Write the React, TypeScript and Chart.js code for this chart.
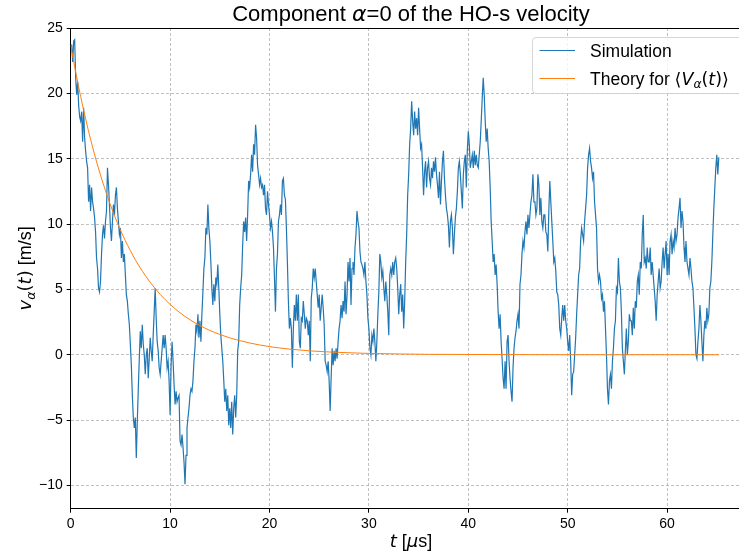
import React, { useEffect, useRef } from "react";
import { Chart, registerables } from "chart.js";

Chart.register(...registerables);

// ---- data ----
const SIM_T0 = 0; // μs
const SIM_DT = 0.1; // μs, sampling step of the traced simulation
const SIM_V = [
  23.7, 23.7, 22.4, 24.0, 24.1, 21.2, 19.9, 20.9, 19.1, 18.2, 17.9,
  18.6, 16.3, 18.9, 16.6, 15.6, 14.8, 14.3, 11.7, 13.0, 11.0,
  12.8, 11.7, 11.2, 10.5, 9.4, 7.4, 6.6, 5.1, 4.8, 5.6,
  7.7, 9.2, 9.9, 8.9, 10.2, 11.0, 14.3, 13.0, 11.5, 9.7,
  8.7, 10.2, 11.5, 10.7, 12.2, 12.8, 11.2, 10.2, 9.2, 9.7,
  7.4, 8.7, 7.1, 7.7, 6.1, 4.6, 4.1, 3.1, 2.3, 0.8,
  -0.8, -3.1, -4.8, -5.6, -4.8, -7.9, -5.1, -2.6, -0.3, 1.8,
  0.5, 2.3, 0.8, 0.0, -1.5, 0.0, 0.5, -1.8, -0.3, 1.3,
  0.3, -0.5, 1.5, 3.3, 5.1, 2.8, 1.0, 0.3, -1.0, -1.5,
  -0.5, 0.5, 1.5, 0.5, 1.5, 0.5, -1.0, -0.5, -2.0, -4.6,
  -0.8, 1.0, -0.5, -2.3, -3.8, -2.8, -3.6, -3.3, -3.1, -6.6,
  -6.9, -6.1, -7.1, -8.2, -9.9, -7.7, -5.6, -4.8, -4.1, -3.1,
  -2.6, -2.8, -2.0, -0.5, 0.5, 2.3, 1.8, 3.1, 1.3, 2.6,
  1.0, 3.1, 4.8, 6.6, 7.4, 9.7, 9.2, 11.5, 9.7, 8.7,
  7.1, 5.1, 3.8, 5.4, 4.1, 5.9, 5.4, 6.9, 5.1, 3.1,
  1.5, 0.5, -0.5, -2.0, -3.6, -2.6, -4.3, -3.1, -5.4, -4.1,
  -5.6, -3.6, -6.1, -4.1, -3.1, -4.8, -3.1, 0.3, 1.0, 3.8,
  5.1, 6.1, 8.4, 10.2, 9.4, 10.5, 8.7, 10.7, 13.3, 12.8,
  13.8, 15.3, 14.0, 16.1, 15.3, 17.6, 16.6, 14.5, 13.8, 13.0,
  13.5, 12.8, 13.0, 12.2, 13.0, 11.2, 10.7, 12.5, 11.5, 10.7,
  9.7, 10.2, 9.4, 8.2, 5.9, 3.3, 6.6, 7.7, 10.2, 10.7,
  11.5, 10.7, 13.3, 13.5, 12.2, 11.9, 9.7, 7.1, 4.1, 2.0,
  2.8, 2.0, -1.0, 2.0, 3.8, 2.6, 4.6, 2.6, 4.6, 1.0,
  0.5, 2.8, 2.6, 4.1, 3.1, 2.0, 2.8, 2.6, 1.5, 2.6,
  -0.5, 4.3, 5.1, 6.6, 5.9, 6.6, 5.6, 4.6, 3.6, 4.6,
  2.6, 3.6, 4.6, 3.6, 2.3, -0.5, -0.8, -1.3, -0.5, -2.0,
  -4.3, -1.8, 0.5, -0.8, 0.3, -0.5, 0.5, -0.3, 1.0, 2.0,
  2.6, 3.8, 2.8, 4.1, 3.3, 5.6, 3.1, 4.6, 7.1, 5.6,
  7.4, 3.8, 6.6, 7.1, 6.1, 8.2, 9.2, 11.0, 10.2, 9.7,
  7.9, 7.1, 6.9, 6.6, 6.1, 7.1, 5.6, 4.6, 2.8, 2.0,
  0.5, 0.0, 1.5, 1.0, 2.0, 1.0, -0.5, 1.0, 3.1, 4.8,
  7.7, 7.1, 5.9, 6.4, 5.1, 4.1, 5.6, 4.6, 3.3, 1.5,
  6.1, 6.6, 6.1, 7.1, 6.1, 7.1, 7.4, 6.6, 5.1, 3.1,
  4.6, 5.4, 3.3, 4.6, 2.0, 4.1, 7.1, 9.2, 12.2, 13.8,
  16.1, 17.3, 19.4, 17.9, 16.8, 18.6, 17.3, 18.1, 16.8, 18.9,
  17.3, 15.8, 16.1, 14.3, 12.2, 14.0, 14.8, 12.8, 14.3, 14.8,
  13.5, 13.0, 14.3, 13.5, 14.8, 14.0, 15.1, 13.8, 13.0, 12.0,
  14.0, 11.5, 13.3, 14.8, 15.6, 13.5, 12.2, 11.2, 10.7, 9.9,
  8.2, 10.2, 10.7, 9.7, 7.7, 9.2, 10.5, 11.2, 12.5, 14.3,
  14.8, 13.8, 12.5, 11.2, 13.8, 14.8, 15.3, 12.8, 15.6, 17.1,
  16.1, 14.3, 14.8, 15.3, 14.3, 15.6, 14.5, 15.3, 14.5, 14.3,
  15.3, 16.3, 17.9, 19.6, 21.2, 19.9, 17.9, 16.3, 17.3, 15.8,
  14.8, 12.8, 10.2, 8.7, 7.1, 7.7, 6.1, 6.9, 5.4, 3.3,
  2.0, 3.1, 1.0, -0.3, -1.8, -2.6, -0.5, -2.6, 1.0, 1.5,
  -0.5, -1.8, -2.8, -3.6, -1.0, 0.5, 1.3, 1.8, 2.6, 3.1,
  2.0, 5.4, 6.1, 7.7, 8.7, 8.2, 9.4, 10.2, 9.2, 10.7,
  9.7, 10.7, 11.7, 12.2, 13.8, 11.7, 11.7, 10.7, 11.2, 13.8,
  13.0, 10.7, 12.0, 10.2, 9.7, 10.7, 10.7, 9.4, 9.2, 7.9,
  11.0, 13.3, 11.7, 10.2, 8.7, 7.1, 7.4, 6.4, 4.8, 4.6,
  3.8, 2.0, 1.5, 2.8, 3.8, 2.6, 3.8, 2.6, 2.0, 1.0,
  0.3, 1.5, -0.5, -3.1, -1.5, -1.3, 0.0, 1.3, 3.1, 4.6,
  6.1, 6.6, 8.7, 9.7, 9.2, 8.7, 10.2, 11.2, 12.2, 14.3,
  15.3, 15.8, 14.8, 14.3, 13.5, 14.0, 11.7, 10.7, 9.7, 6.6,
  5.6, 6.1, 5.6, 4.3, 4.6, 3.3, 4.1, 2.0, 0.0, -2.6,
  -3.8, -2.0, -1.5, -2.6, -0.5, 0.5, 2.0, 2.6, 5.1, 4.8,
  7.4, 5.6, 5.1, 3.3, 0.5, -0.5, -1.5, 0.3, 2.0, 0.0,
  1.0, 3.1, 2.6, 2.6, 1.5, 3.6, 2.0, 4.1, 3.6, 5.6,
  6.1, 4.6, 7.1, 6.6, 9.2, 10.7, 7.1, 7.4, 6.6, 8.2,
  7.1, 7.1, 8.2, 6.1, 7.1, 6.1, 5.1, 4.1, 2.6, 4.6,
  5.6, 6.6, 5.1, 5.6, 7.1, 8.2, 6.6, 7.7, 8.7, 6.1,
  7.7, 6.1, 8.7, 9.2, 7.7, 8.7, 8.2, 9.7, 8.7, 9.2,
  10.5, 11.2, 12.0, 9.7, 11.0, 10.2, 8.2, 7.1, 8.7, 7.1,
  6.6, 6.1, 7.4, 6.6, 5.6, 5.1, 3.6, 2.0, 0.0, -0.3,
  1.0, 2.0, 3.8, 2.6, 1.0, -0.5, 1.5, 2.6, 2.0, 3.6,
  2.6, 3.1, 5.1, 5.6, 7.1, 9.2, 11.2, 12.8, 14.3, 15.3,
  13.8, 15.1,
];

const THEORY_T = [
  0, 0.5, 1, 1.5, 2, 2.5, 3, 3.5, 4, 4.5, 5, 5.5, 6, 6.5, 7, 7.5, 8, 8.5, 9, 9.5,
  10, 10.5, 11, 11.5, 12, 12.5, 13, 13.5, 14, 14.5, 15, 16, 17, 18, 19, 20, 21, 22,
  24, 26, 28, 30, 33, 36, 40, 45, 50, 55, 60, 65.2,
];
const THEORY_V = [
  23.7, 21.64, 19.76, 18.05, 16.48, 15.05, 13.74, 12.55, 11.46, 10.46, 9.55, 8.72,
  7.97, 7.27, 6.64, 6.07, 5.54, 5.06, 4.62, 4.22, 3.85, 3.52, 3.21, 2.93, 2.68, 2.44,
  2.23, 2.04, 1.86, 1.7, 1.55, 1.29, 1.08, 0.9, 0.75, 0.62, 0.52, 0.43, 0.3, 0.21,
  0.15, 0.1, 0.06, 0.03, 0.02, 0.01, 0, 0, 0, 0,
];

const X_TICKS = [0, 10, 20, 30, 40, 50, 60];
const Y_TICKS = [-10, -5, 0, 5, 10, 15, 20, 25];
const X_MIN = 0;
const X_MAX = 68.46;
const Y_MIN = -11.78;
const Y_MAX = 25.0;

const SIM_LABEL = "Simulation";
const BLUE = "#1f77b4";
const ORANGE = "#ff7f0e";

// ---- fonts ----
const REG = "Liberation Sans, Arial, sans-serif";
const MATH = "DejaVu Sans, sans-serif";

type Seg = { text: string; font: string; dy?: number };

const TITLE_SEGS: Seg[] = [
  { text: "Component ", font: `22px ${REG}` },
  { text: "α", font: `italic 22px ${MATH}` },
  { text: "=0 of the HO-s velocity", font: `22px ${REG}` },
];
const XLABEL_SEGS: Seg[] = [
  { text: "t", font: `italic 18px ${MATH}` },
  { text: " [", font: `18px ${REG}` },
  { text: "μ", font: `italic 18px ${MATH}` },
  { text: "s]", font: `18px ${REG}` },
];
const YLABEL_SEGS: Seg[] = [
  { text: "v", font: `italic 18px ${MATH}` },
  { text: "α", font: `italic 12.6px ${MATH}`, dy: 3.5 },
  { text: "(", font: `18px ${MATH}` },
  { text: "t", font: `italic 18px ${MATH}` },
  { text: ")", font: `18px ${MATH}` },
  { text: " [m/s]", font: `18px ${REG}` },
];
const THEORY_SEGS: Seg[] = [
  { text: "Theory for ", font: `17.5px ${REG}` },
  { text: "⟨", font: `17.5px ${MATH}` },
  { text: "V", font: `italic 17.5px ${MATH}` },
  { text: "α", font: `italic 12.2px ${MATH}`, dy: 3.5 },
  { text: "(", font: `17.5px ${MATH}` },
  { text: "t", font: `italic 17.5px ${MATH}` },
  { text: ")", font: `17.5px ${MATH}` },
  { text: "⟩", font: `17.5px ${MATH}` },
];
const SIM_SEGS: Seg[] = [{ text: SIM_LABEL, font: `17.5px ${REG}` }];

function drawRich(ctx: CanvasRenderingContext2D, segs: Seg[], x: number, y: number, align: "center" | "left") {
  let total = 0;
  for (const s of segs) {
    ctx.font = s.font;
    total += ctx.measureText(s.text).width;
  }
  let cx = align === "center" ? x - total / 2 : x;
  for (const s of segs) {
    ctx.font = s.font;
    ctx.fillText(s.text, cx, y + (s.dy || 0));
    cx += ctx.measureText(s.text).width;
  }
}

function roundRect(ctx: CanvasRenderingContext2D, x: number, y: number, w: number, h: number, r: number) {
  ctx.beginPath();
  ctx.moveTo(x + r, y);
  ctx.lineTo(x + w - r, y);
  ctx.quadraticCurveTo(x + w, y, x + w, y + r);
  ctx.lineTo(x + w, y + h - r);
  ctx.quadraticCurveTo(x + w, y + h, x + w - r, y + h);
  ctx.lineTo(x + r, y + h);
  ctx.quadraticCurveTo(x, y + h, x, y + h - r);
  ctx.lineTo(x, y + r);
  ctx.quadraticCurveTo(x, y, x + r, y);
  ctx.closePath();
}

const overlayPlugin = {
  id: "overlay",
  afterDraw(chart: any) {
    const { ctx, chartArea: a } = chart;
    ctx.save();
    // top spine
    ctx.strokeStyle = "#000";
    ctx.lineWidth = 1;
    ctx.beginPath();
    ctx.moveTo(a.left, Math.round(a.top) + 0.5);
    ctx.lineTo(a.right, Math.round(a.top) + 0.5);
    ctx.stroke();

    ctx.fillStyle = "#000";
    ctx.textBaseline = "alphabetic";
    const cx = (a.left + a.right) / 2;
    drawRich(ctx, TITLE_SEGS, cx, 21, "center");
    drawRich(ctx, XLABEL_SEGS, cx, 547, "center");
    ctx.save();
    ctx.translate(31, (a.top + a.bottom) / 2);
    ctx.rotate(-Math.PI / 2);
    drawRich(ctx, YLABEL_SEGS, 0, 0, "center");
    ctx.restore();

    // legend
    const lx = 532.5, ly = 37.5, lw = 210, lh = 56;
    roundRect(ctx, lx, ly, lw, lh, 3.5);
    ctx.fillStyle = "rgba(255,255,255,0.8)";
    ctx.fill();
    ctx.strokeStyle = "rgba(204,204,204,0.8)";
    ctx.lineWidth = 1;
    ctx.stroke();

    const rows = [
      { color: BLUE, segs: SIM_SEGS, y: 50.5 },
      { color: ORANGE, segs: THEORY_SEGS, y: 78.5 },
    ];
    for (const r of rows) {
      ctx.strokeStyle = r.color;
      ctx.lineWidth = 1.2;
      ctx.beginPath();
      ctx.moveTo(539.5, r.y);
      ctx.lineTo(575, r.y);
      ctx.stroke();
      ctx.fillStyle = "#000";
      drawRich(ctx, r.segs, 590, r.y + 6.3, "left");
    }
    ctx.restore();
  },
};

const fmt = (v: number | string) => {
  const n = Number(v);
  return n < 0 ? "\u2212" + Math.abs(n) : String(n);
};

export default function App() {
  const ref = useRef<HTMLCanvasElement | null>(null);

  useEffect(() => {
    if (!ref.current) return;
    const simData = SIM_V.map((v, i) => ({ x: +(SIM_T0 + i * SIM_DT).toFixed(2), y: v }));
    const theoryData = THEORY_T.map((t, i) => ({ x: t, y: THEORY_V[i] }));
    const gridCommon = {
      color: "#b0b0b0",
      lineWidth: 0.8,
      drawTicks: true,
      tickLength: 4,
      tickColor: "#000",
      tickWidth: 1,
      tickBorderDash: [],
    };
    const borderCommon = { display: true, color: "#000", width: 1, dash: [3, 2] };
    const tickFont = { family: REG, size: 14 };

    const chart = new Chart(ref.current, {
      type: "line",
      data: {
        datasets: [
          {
            label: SIM_LABEL,
            data: simData,
            borderColor: BLUE,
            backgroundColor: BLUE,
            borderWidth: 1.2,
            pointRadius: 0,
            tension: 0,
            order: 1,
          },
          {
            label: "Theory",
            data: theoryData,
            borderColor: ORANGE,
            backgroundColor: ORANGE,
            borderWidth: 1,
            pointRadius: 0,
            cubicInterpolationMode: "monotone",
            order: 0,
          },
        ],
      },
      options: {
        responsive: false,
        animation: false,
        devicePixelRatio: 1,
        events: [],
        parsing: false,
        layout: { padding: { left: 0, right: 8.8, top: 28, bottom: 0 } },
        plugins: {
          legend: { display: false },
          title: { display: false },
          tooltip: { enabled: false },
        },
        scales: {
          x: {
            type: "linear",
            min: X_MIN,
            max: X_MAX,
            afterFit: (s: any) => {
              s.height = 46.3;
            },
            afterBuildTicks: (s: any) => {
              s.ticks = X_TICKS.map((v) => ({ value: v }));
            },
            grid: gridCommon,
            border: borderCommon,
            ticks: {
              color: "#000",
              font: tickFont,
              padding: 3,
              maxRotation: 0,
              autoSkip: false,
              callback: fmt,
            },
          },
          y: {
            type: "linear",
            min: Y_MIN,
            max: Y_MAX,
            afterFit: (s: any) => {
              s.width = 70.7;
            },
            afterBuildTicks: (s: any) => {
              s.ticks = Y_TICKS.map((v) => ({ value: v }));
            },
            grid: gridCommon,
            border: borderCommon,
            ticks: {
              color: "#000",
              font: tickFont,
              padding: 4,
              autoSkip: false,
              callback: fmt,
            },
          },
        },
      } as any,
      plugins: [overlayPlugin],
    });
    return () => chart.destroy();
  }, []);

  return (
    <div
      style={{
        position: "absolute",
        left: 0,
        top: 0,
        width: 739,
        height: 555,
        overflow: "hidden",
        background: "#fff",
      }}
    >
      <canvas ref={ref} width={760} height={555} style={{ display: "block" }} />
    </div>
  );
}
